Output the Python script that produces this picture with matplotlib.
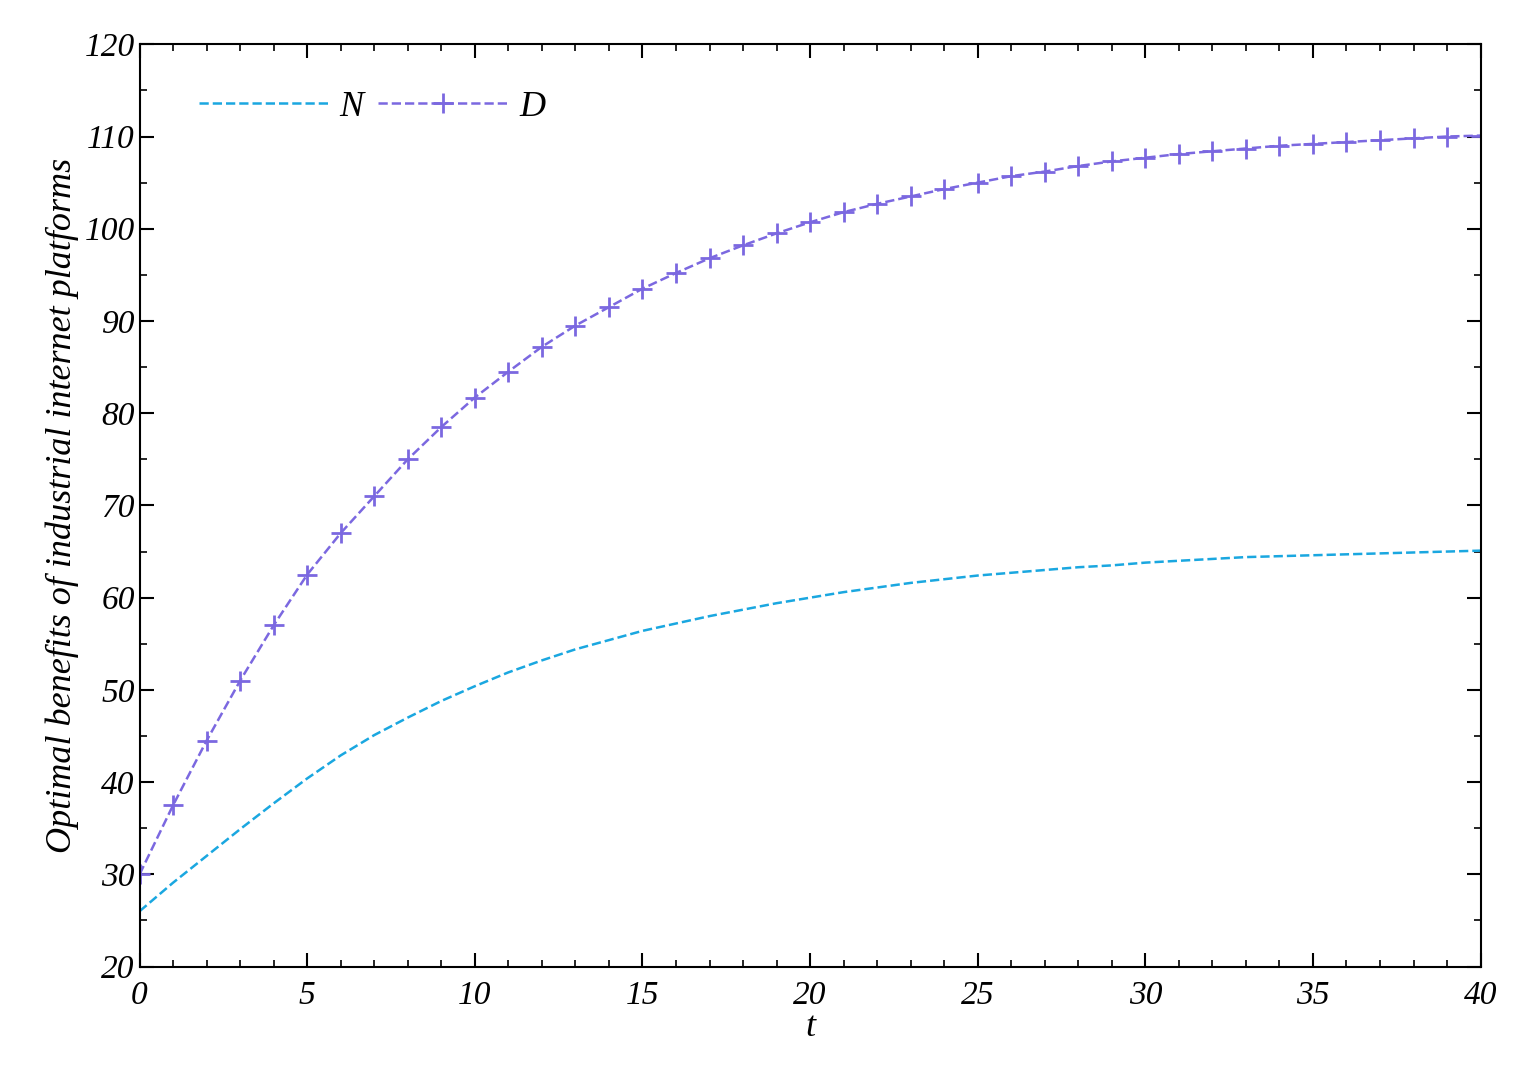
import numpy as np
import matplotlib
matplotlib.use("Agg")
import matplotlib.pyplot as plt
from matplotlib.ticker import MultipleLocator

# Values
t_d = list(range(0, 41))
d_vals = [30, 37.5, 44.5, 51, 57, 62.5, 67, 71, 75, 78.5, 81.7, 84.5, 87.2, 89.5,
          91.5, 93.5, 95.2, 96.8, 98.2, 99.5, 100.7, 101.8, 102.7, 103.5, 104.3,
          105, 105.7, 106.2, 106.8, 107.3, 107.7, 108.1, 108.4, 108.7, 109.0,
          109.2, 109.4, 109.6, 109.8, 110.0, 110.1]
t_n = list(range(0, 41))
n_vals = [26, 29.1, 32, 34.9, 37.7, 40.4, 42.9, 45.1, 47, 48.8, 50.4, 51.9, 53.2,
          54.4, 55.4, 56.4, 57.2, 58.0, 58.7, 59.4, 60.0, 60.6, 61.1, 61.6, 62.0,
          62.4, 62.7, 63.0, 63.3, 63.5, 63.8, 64.0, 64.2, 64.4, 64.5, 64.6, 64.7,
          64.8, 64.9, 65.0, 65.1]

plt.rcParams['font.family'] = ['Liberation Serif', 'DejaVu Serif']
plt.rcParams['font.style'] = 'italic'

fig, ax = plt.subplots(figsize=(15.17, 10.8), dpi=100)
fig.subplots_adjust(left=0.092, right=0.976, top=0.959, bottom=0.105)

ax.plot(t_n, n_vals, linestyle='--', color='#1aa7e0', lw=1.8, label='N')
ax.plot(t_d, d_vals, linestyle='--', color='#7b68e0', lw=1.8, marker='+',
        markersize=14, markeredgewidth=2, label='D')

ax.set_xlim(0, 40)
ax.set_ylim(20, 120)
ax.xaxis.set_major_locator(MultipleLocator(5))
ax.xaxis.set_minor_locator(MultipleLocator(1))
ax.yaxis.set_major_locator(MultipleLocator(10))
ax.yaxis.set_minor_locator(MultipleLocator(5))
ax.tick_params(which='both', direction='in', top=True, right=True, labelsize=24)
ax.tick_params(which='major', length=10, width=1.5)
ax.tick_params(which='minor', length=5, width=1.2)
ax.tick_params(axis='x', pad=10)
for s in ax.spines.values():
    s.set_linewidth(1.5)

ax.set_xlabel('t', fontsize=26, labelpad=0)
ax.set_ylabel('Optimal benefits of industrial internet platforms', fontsize=26)
ax.legend(loc='upper left', ncol=2, frameon=False, fontsize=26, handlelength=3.6,
          handletextpad=0.3, columnspacing=0.4, bbox_to_anchor=(0.02, 0.985))

plt.savefig('out.png')
